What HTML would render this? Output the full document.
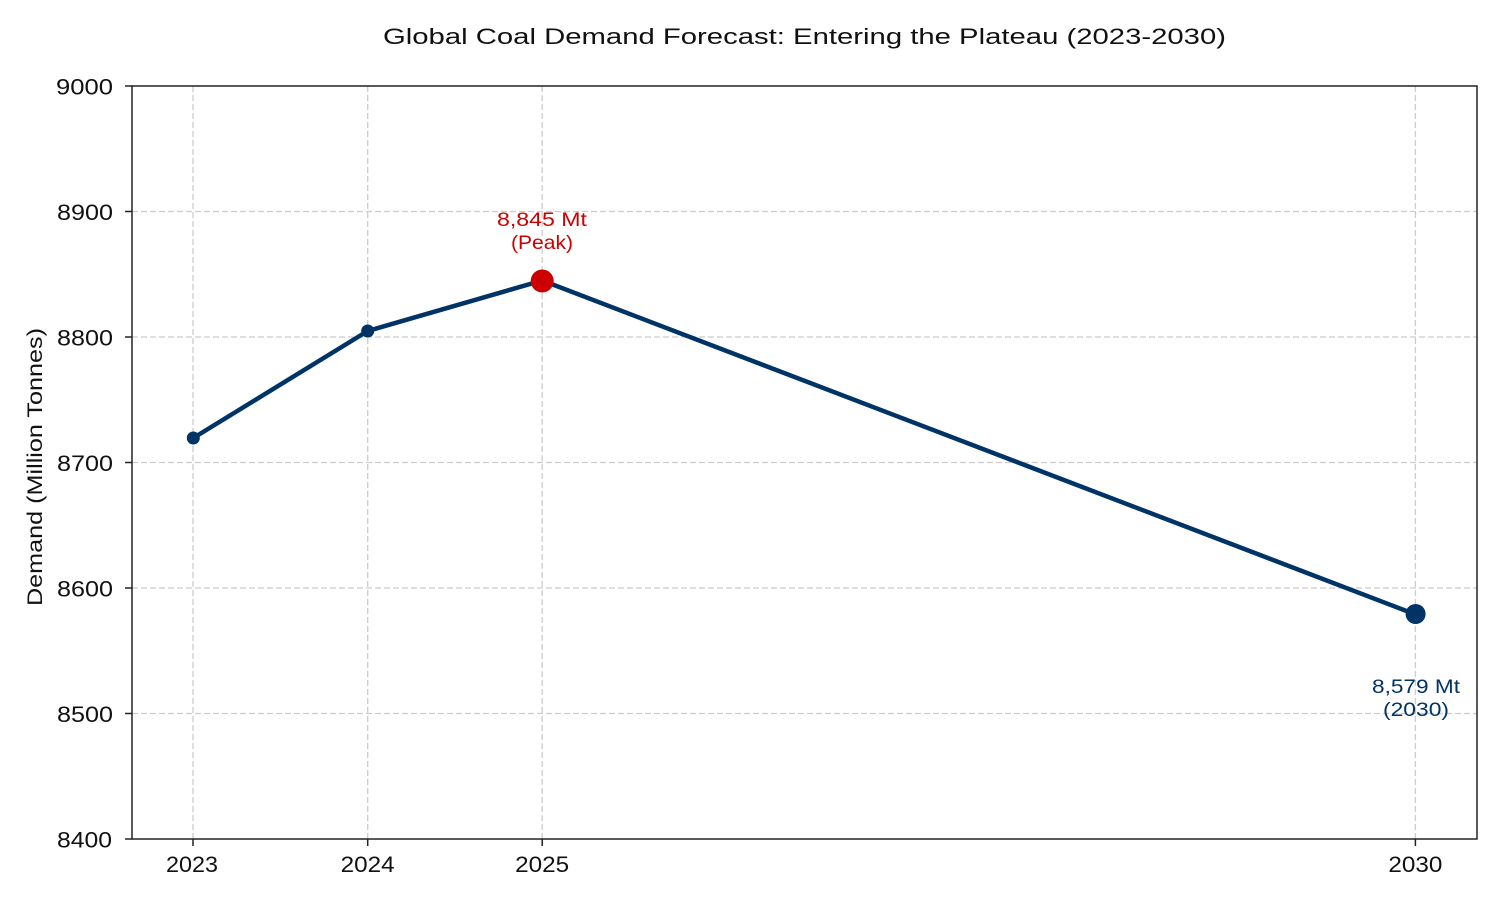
<!DOCTYPE html>
<html>
<head>
<meta charset="utf-8">
<style>
  html, body { margin: 0; padding: 0; background: #ffffff; }
  svg { display: block; }
  text { font-family: "Liberation Sans", "DejaVu Sans", sans-serif; }
</style>
</head>
<body>
<svg width="1500" height="900" viewBox="0 0 1500 900" xmlns="http://www.w3.org/2000/svg">
  <rect x="0" y="0" width="1500" height="900" fill="#ffffff"/>

  <!-- Title -->
  <text x="383" y="44" font-size="22" fill="#111" textLength="843" lengthAdjust="spacingAndGlyphs">Global Coal Demand Forecast: Entering the Plateau (2023-2030)</text>

  <!-- Grid -->
  <g stroke="#cccccc" stroke-width="1.3" stroke-dasharray="6,3" fill="none">
    <line x1="132" y1="211.5" x2="1477" y2="211.5"/>
    <line x1="132" y1="337" x2="1477" y2="337"/>
    <line x1="132" y1="462.5" x2="1477" y2="462.5"/>
    <line x1="132" y1="588" x2="1477" y2="588"/>
    <line x1="132" y1="713.5" x2="1477" y2="713.5"/>
    <line x1="193" y1="86" x2="193" y2="839"/>
    <line x1="367.7" y1="86" x2="367.7" y2="839"/>
    <line x1="542.2" y1="86" x2="542.2" y2="839"/>
    <line x1="1415.4" y1="86" x2="1415.4" y2="839"/>
  </g>

  <!-- Axes frame -->
  <rect x="132" y="86" width="1345" height="753" fill="none" stroke="#222" stroke-width="1.5"/>

  <!-- Ticks -->
  <g stroke="#222" stroke-width="1.5">
    <line x1="125" y1="86" x2="132" y2="86"/>
    <line x1="125" y1="211.5" x2="132" y2="211.5"/>
    <line x1="125" y1="337" x2="132" y2="337"/>
    <line x1="125" y1="462.5" x2="132" y2="462.5"/>
    <line x1="125" y1="588" x2="132" y2="588"/>
    <line x1="125" y1="713.5" x2="132" y2="713.5"/>
    <line x1="125" y1="839" x2="132" y2="839"/>
    <line x1="193" y1="839" x2="193" y2="846"/>
    <line x1="367.7" y1="839" x2="367.7" y2="846"/>
    <line x1="542.2" y1="839" x2="542.2" y2="846"/>
    <line x1="1415.4" y1="839" x2="1415.4" y2="846"/>
  </g>

  <!-- Y tick labels -->
  <g font-size="22" fill="#111">
    <text x="56" y="94.5" textLength="57" lengthAdjust="spacingAndGlyphs">9000</text>
    <text x="57" y="220" textLength="56" lengthAdjust="spacingAndGlyphs">8900</text>
    <text x="57" y="345.5" textLength="56" lengthAdjust="spacingAndGlyphs">8800</text>
    <text x="57" y="471" textLength="56" lengthAdjust="spacingAndGlyphs">8700</text>
    <text x="57" y="596.5" textLength="56" lengthAdjust="spacingAndGlyphs">8600</text>
    <text x="57" y="722" textLength="56" lengthAdjust="spacingAndGlyphs">8500</text>
    <text x="57" y="847.5" textLength="55" lengthAdjust="spacingAndGlyphs">8400</text>
  </g>

  <!-- X tick labels -->
  <g font-size="22" fill="#111">
    <text x="166" y="872" textLength="52" lengthAdjust="spacingAndGlyphs">2023</text>
    <text x="340.7" y="872" textLength="54" lengthAdjust="spacingAndGlyphs">2024</text>
    <text x="515.2" y="872" textLength="54" lengthAdjust="spacingAndGlyphs">2025</text>
    <text x="1388.4" y="872" textLength="54" lengthAdjust="spacingAndGlyphs">2030</text>
  </g>

  <!-- Y axis label -->
  <text transform="translate(42,606) rotate(-90)" font-size="21" fill="#111" textLength="278" lengthAdjust="spacingAndGlyphs">Demand (Million Tonnes)</text>

  <!-- Data line -->
  <polyline points="193.3,438 367.7,331 542.2,280.5 1415.4,614.4" fill="none" stroke="#003366" stroke-width="4.5" stroke-linejoin="round" stroke-linecap="round"/>
  <circle cx="193.3" cy="438" r="6.5" fill="#003366"/>
  <circle cx="367.7" cy="331" r="6.5" fill="#003366"/>
  <circle cx="1415.6" cy="614" r="10" fill="#003366"/>
  <circle cx="542.2" cy="281" r="11.5" fill="#cc0000"/>

  <!-- Annotations -->
  <g font-size="19.5" fill="#cc0000">
    <text x="497" y="226" textLength="90" lengthAdjust="spacingAndGlyphs">8,845 Mt</text>
    <text x="511" y="249" textLength="62" lengthAdjust="spacingAndGlyphs">(Peak)</text>
  </g>
  <g font-size="19.5" fill="#003366">
    <text x="1372" y="693" textLength="88" lengthAdjust="spacingAndGlyphs">8,579 Mt</text>
    <text x="1383" y="716" textLength="66" lengthAdjust="spacingAndGlyphs">(2030)</text>
  </g>
</svg>
</body>
</html>
